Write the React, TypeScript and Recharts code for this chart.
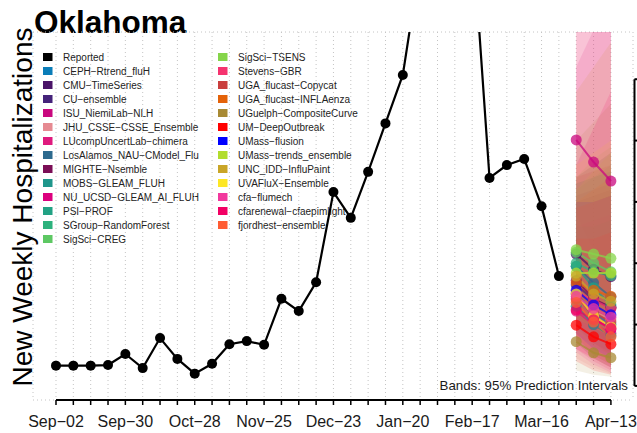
import {
  ComposedChart,
  Line,
  Area,
  XAxis,
  YAxis,
  CartesianGrid,
  ReferenceLine,
} from "recharts";

const FONT = '"Liberation Sans", Arial, Helvetica, sans-serif';

const weekLabels = [
  "Sep−02", "Sep−09", "Sep−16", "Sep−23", "Sep−30", "Oct−07", "Oct−14", "Oct−21",
  "Oct−28", "Nov−04", "Nov−11", "Nov−18", "Nov−25", "Dec−02", "Dec−09", "Dec−16",
  "Dec−23", "Dec−30", "Jan−06", "Jan−13", "Jan−20", "Jan−27", "Feb−03", "Feb−10",
  "Feb−17", "Feb−24", "Mar−02", "Mar−09", "Mar−16", "Mar−23", "Mar−30", "Apr−06",
  "Apr−13",
];

// reported weekly hospitalizations, Sep-02 .. Mar-23
const reported = [
  33, 33, 33, 34, 52, 29, 78, 44, 20, 36, 68, 73, 67, 142, 122, 169, 316, 274, 349,
  428, 507, 690, 760, 780, 745, 339, 360, 370, 293, 179,
];

// forecasts cover the last three weeks
const forecastStart = 30;

const modelNames = [
  "CEPH−Rtrend_fluH", "CMU−TimeSeries", "CU−ensemble", "ISU_NiemiLab−NLH",
  "JHU_CSSE−CSSE_Ensemble", "LUcompUncertLab−chimera", "LosAlamos_NAU−CModel_Flu",
  "MIGHTE−Nsemble", "MOBS−GLEAM_FLUH", "NU_UCSD−GLEAM_AI_FLUH", "PSI−PROF",
  "SGroup−RandomForest", "SigSci−CREG", "SigSci−TSENS", "Stevens−GBR",
  "UGA_flucast−Copycat", "UGA_flucast−INFLAenza", "UGuelph−CompositeCurve",
  "UM−DeepOutbreak", "UMass−flusion", "UMass−trends_ensemble", "UNC_IDD−InfluPaint",
  "UVAFluX−Ensemble", "cfa−flumech", "cfarenewal−cfaepimlight", "fjordhest−ensemble",
];

const modelColors = [
  "#0A7DB8", "#4A1468", "#45237A", "#C9087F", "#E68A92", "#DF1A7E", "#2D6A8E",
  "#7B0E56", "#1F968B", "#DC007E", "#22A284", "#2DB27D", "#5DC863", "#85D54A",
  "#F5336F", "#C93E3D", "#E46209", "#A88A34", "#FF0000", "#0000FF", "#B2DD2D",
  "#C9A527", "#FDE725", "#F2389E", "#F20064", "#FF5C33",
];

const medians = [
  [150, 120, 100], [215, 190, 178], [165, 140, 128], [401, 365, 334], [140, 122, 108],
  [122, 100, 86], [195, 168, 145], [172, 142, 128], [130, 100, 82], [150, 112, 92],
  [195, 160, 132], [200, 186, 180], [218, 200, 186], [222, 215, 208], [153, 140, 126],
  [142, 120, 104], [168, 156, 146], [72, 54, 46], [99, 80, 68], [156, 132, 116],
  [184, 184, 184], [179, 150, 138], [150, 114, 96], [146, 126, 112], [124, 108, 94],
  [136, 104, 80],
];

const lowers = [
  [80, 50, 35], [140, 105, 80], [95, 70, 50], [280, 220, 180], [45, 30, 20],
  [60, 40, 25], [120, 90, 65], [100, 70, 55], [70, 45, 30], [80, 50, 35],
  [120, 85, 60], [130, 110, 95], [145, 120, 95], [150, 130, 115], [85, 65, 50],
  [75, 55, 40], [100, 80, 65], [25, 18, 15], [40, 25, 18], [85, 60, 45],
  [110, 95, 80], [90, 65, 50], [80, 50, 35], [55, 35, 22], [60, 45, 30],
  [70, 45, 30],
];

const uppers = [
  [290, 300, 310], [340, 360, 380], [300, 310, 320], [520, 580, 620], [680, 760, 840],
  [260, 270, 280], [330, 340, 350], [310, 320, 330], [260, 260, 270], [300, 300, 310],
  [330, 340, 350], [320, 340, 360], [340, 360, 380], [340, 370, 390], [600, 640, 700],
  [340, 350, 360], [300, 320, 340], [400, 430, 460], [240, 240, 250], [300, 300, 310],
  [320, 350, 380], [480, 520, 560], [360, 380, 400], [640, 700, 760], [360, 420, 480],
  [290, 300, 310],
];

const gridValues = [0, 100, 200, 300, 400, 500];

const data = weekLabels.map((label, i) => {
  const row: Record<string, unknown> = {
    x: i,
    label,
    reported: i < reported.length ? reported[i] : null,
  };
  const j = i - forecastStart;
  if (j >= 0) {
    modelNames.forEach((_, k) => {
      row[`m${k}`] = medians[k][j];
      row[`b${k}`] = [lowers[k][j], uppers[k][j]];
    });
  }
  return row;
});

const weekTicks = weekLabels.map((_, i) => i);

function BackLayer() {
  const entries = [
    { name: "Reported", color: "#000000" },
    ...modelNames.map((name, k) => ({ name, color: modelColors[k] })),
  ];
  const cols = [entries.slice(0, 14), entries.slice(14)];
  const colX = [43, 218];
  return (
    <svg
      width={637}
      height={433}
      style={{ position: "absolute", left: 0, top: 0 }}
      fontFamily={FONT}
    >
      <text x={34} y={33} fontSize={31.5} fontWeight="bold" fill="#000">
        Oklahoma
      </text>
      <text
        transform="translate(32,207) rotate(-90)"
        textAnchor="middle"
        fontSize={28}
        fill="#000"
      >
        New Weekly Hospitalizations
      </text>
      {cols.map((col, c) =>
        col.map((e, r) => (
          <g key={`${c}-${r}`}>
            <rect x={colX[c]} y={53 + r * 14} width={9.5} height={8} fill={e.color} />
            <text x={colX[c] + 20} y={61 + r * 14} fontSize={10} fill="#222">
              {e.name}
            </text>
          </g>
        ))
      )}
    </svg>
  );
}

export default function App() {
  return (
    <div style={{ position: "absolute", left: 0, top: 0, width: 637, height: 433, background: "#fff" }}>
      <BackLayer />
      <div style={{ position: "absolute", left: 0, top: 0 }}>
        <ComposedChart
          width={637}
          height={433}
          data={data}
          margin={{ top: 32, right: 4, bottom: 0, left: 33 }}
        >
          <CartesianGrid stroke="#c4c4c4" strokeDasharray="1 3" />
          <XAxis
            type="number"
            dataKey="x"
            domain={[-1.326, 33.274]}
            allowDataOverflow
            ticks={weekTicks}
            interval={0}
            tickFormatter={(v: number) => (v % 4 === 0 ? weekLabels[v] : "")}
            axisLine={false}
            tickLine={{ stroke: "#000", strokeWidth: 1.5 }}
            tickSize={5}
            tickMargin={11}
            height={33}
            tick={{ fill: "#1a1a1a", fontSize: 16, fontFamily: FONT }}
          />
          <YAxis
            domain={[-23, 577]}
            allowDataOverflow
            ticks={gridValues}
            width={0}
            tick={false}
            axisLine={false}
            tickLine={false}
          />
          {modelNames.map((name, k) => (
            <Area
              key={`band-${name}`}
              dataKey={`b${k}`}
              type="linear"
              stroke="none"
              fill={modelColors[k]}
              fillOpacity={0.13}
              dot={false}
              activeDot={false}
              isAnimationActive={false}
            />
          ))}
          {modelNames.map((name, k) => (
            <Line
              key={`line-${name}`}
              dataKey={`m${k}`}
              type="linear"
              stroke={modelColors[k]}
              strokeOpacity={0.75}
              strokeWidth={2}
              dot={{ r: 5.5, fill: modelColors[k], fillOpacity: 0.75, strokeWidth: 0 }}
              activeDot={false}
              isAnimationActive={false}
            />
          ))}
          <Line
            dataKey="reported"
            type="linear"
            stroke="#000"
            strokeWidth={2.2}
            dot={{ r: 5, fill: "#000", strokeWidth: 0 }}
            activeDot={false}
            isAnimationActive={false}
          />
          <ReferenceLine
            segment={[{ x: 0, y: -23 }, { x: 32, y: -23 }]}
            stroke="#000"
            strokeWidth={2}
            ifOverflow="visible"
          />
          <ReferenceLine
            segment={[{ x: 33.36, y: 0 }, { x: 33.36, y: 500 }]}
            stroke="#000"
            strokeWidth={2}
            ifOverflow="visible"
          />
          {gridValues.map((v) => (
            <ReferenceLine
              key={`rt-${v}`}
              segment={[{ x: 33.36, y: v }, { x: 33.7, y: v }]}
              stroke="#000"
              strokeWidth={2}
              ifOverflow="visible"
            />
          ))}
        </ComposedChart>
      </div>
      <svg
        width={637}
        height={433}
        style={{ position: "absolute", left: 0, top: 0, pointerEvents: "none" }}
        fontFamily={FONT}
      >
        <text x={628} y={390} textAnchor="end" fontSize={13.3} fill="#1a1a1a">
          Bands: 95% Prediction Intervals
        </text>
      </svg>
    </div>
  );
}
